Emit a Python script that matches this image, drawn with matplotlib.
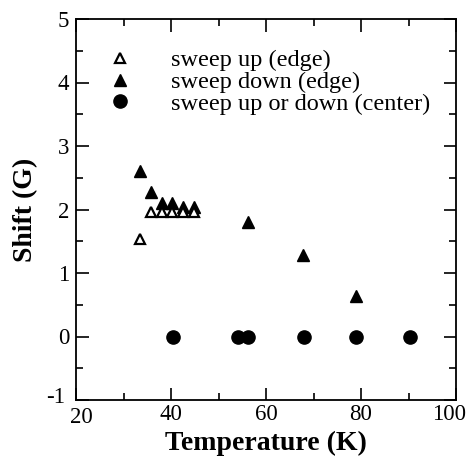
import matplotlib
matplotlib.use('Agg')
import matplotlib.pyplot as plt
import matplotlib.transforms as mtransforms
from matplotlib.ticker import MultipleLocator

plt.rcParams['font.family'] = 'Liberation Serif'
plt.rcParams['axes.unicode_minus'] = False

# edge line, field swept up
up_T = [33.5, 35.8, 38.2, 40.3, 42.6, 44.8]
up_shift = [1.53, 1.96, 1.96, 1.96, 1.96, 1.96]

# edge line, field swept down
down_T = [33.5, 35.8, 38.2, 40.3, 42.6, 44.8, 56.3, 67.7, 78.9]
down_shift = [2.6, 2.28, 2.11, 2.11, 2.04, 2.04, 1.8, 1.28, 0.64]

# center line, either sweep direction
center_T = [40.5, 54.2, 56.3, 67.9, 78.9, 90.3]
center_shift = [0, 0, 0, 0, 0, 0]

fig = plt.figure(figsize=(4.71, 4.68), dpi=100)
ax = fig.add_axes([76/471, 68/468, 380/471, 381/468])

ax.plot(up_T, up_shift, linestyle='none', marker='^', markersize=7,
        markerfacecolor='white', markeredgecolor='black', markeredgewidth=1.6,
        label='sweep up (edge)', zorder=3)
ax.plot(down_T, down_shift, linestyle='none', marker='^', markersize=8,
        color='black', label='sweep down (edge)', zorder=2)
ax.plot(center_T, center_shift, linestyle='none', marker='o', markersize=9.5,
        color='black', label='sweep up or down (center)')

ax.set_xlim(20, 100)
ax.set_ylim(-1, 5)
ax.xaxis.set_major_locator(MultipleLocator(20))
ax.xaxis.set_minor_locator(MultipleLocator(10))
ax.yaxis.set_major_locator(MultipleLocator(1))
ax.yaxis.set_minor_locator(MultipleLocator(0.5))
ax.tick_params(which='both', direction='in', top=True, right=True, width=1.2)
ax.tick_params(which='major', length=9, labelsize=16.5)
ax.tick_params(which='minor', length=5)
ax.tick_params(axis='x', pad=3)
ax.tick_params(axis='y', pad=5)
for s in ax.spines.values():
    s.set_linewidth(1.3)

ax.set_xlabel('Temperature (K)', fontsize=20, fontweight='bold', labelpad=2)
ax.set_ylabel('Shift (G)', fontsize=20, fontweight='bold', labelpad=6)

ax.legend(loc='upper left', bbox_to_anchor=(0.04, 0.965), frameon=False,
          fontsize=17.5, handletextpad=1.6, labelspacing=-0.01, borderpad=0.2,
          handlelength=1.0)

# nudge the corner labels so "-1" and "20" do not collide, keep "100" on the page
fig.canvas.draw()
nudges = {'-1': (-4, 5), '20': (5, -3), '100': (-7, 0)}
for lab in ax.get_xticklabels() + ax.get_yticklabels():
    d = nudges.get(lab.get_text())
    if d:
        lab.set_transform(lab.get_transform() +
                          mtransforms.ScaledTranslation(d[0]/100, d[1]/100,
                                                        fig.dpi_scale_trans))

fig.savefig('out.png', dpi=100)
